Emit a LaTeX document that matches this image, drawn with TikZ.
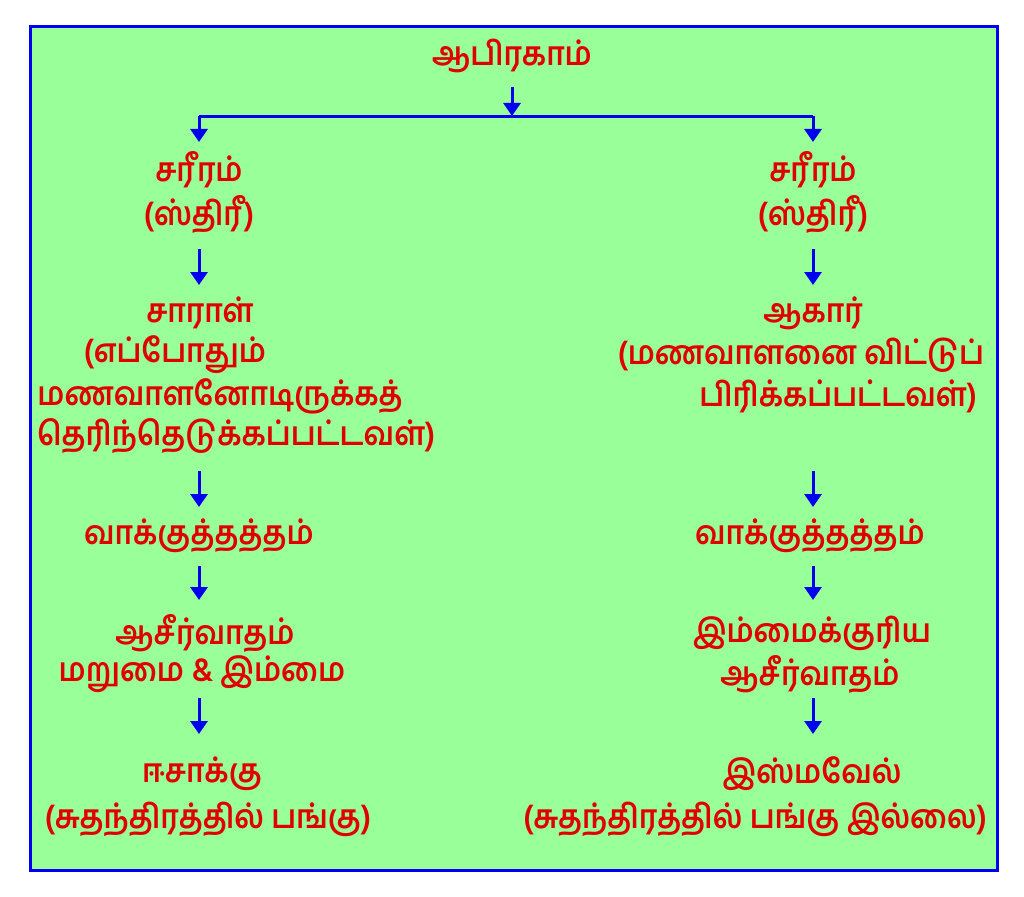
\documentclass[tikz,border=0pt]{standalone}
\usepackage{fontspec}
\newfontfamily\tamil[Script=Tamil,FakeStretch=0.9]{Hind Madurai}
\usetikzlibrary{arrows.meta}
\definecolor{bgreen}{RGB}{153,255,153}
\definecolor{tred}{RGB}{225,0,0}
\definecolor{lblue}{RGB}{0,0,240}
\tikzset{
  txt/.style={text=tred,font=\tamil\bfseries\fontsize{33}{38}\selectfont,inner sep=0pt,anchor=center},
  arr/.style={draw=lblue,line width=3pt,-{Triangle[length=13pt,width=17pt]}},
  ln/.style={draw=lblue,line width=3pt}
}
\begin{document}
\begin{tikzpicture}[x=1pt,y=-1pt]
\useasboundingbox (0,0) rectangle (1024,896);
\fill[white] (0,0) rectangle (1024,896);
\draw[fill=bgreen,draw=lblue,line width=3pt] (30,27) rectangle (997,870);
% top
\node[txt] (abr) at (512,56) {ஆபிரகாம்};
\coordinate (a0) at (512,87);
\coordinate (a1) at (512,116);
\coordinate (hl) at (199,116.5);
\coordinate (hr) at (813,116.5);
\coordinate (hle) at (199,142);
\coordinate (hre) at (813,142);
\draw[arr] (a0) -- (a1);
\draw[ln] (hl) -- (hr);
\draw[arr] (hl) -- (hle);
\draw[arr] (hr) -- (hre);
% left column
\node[txt] (sl1) at (199,170) {சரீரம்};
\node[txt] (sl2) at (199,214) {(ஸ்திரீ)};
\coordinate (l1s) at (199,249);
\coordinate (l1e) at (199,285);
\draw[arr] (l1s) -- (l1e);
\node[txt] (sa1) at (200,313) {சாராள்};
\node[txt] (sa2) at (175,355) {(எப்போதும்};
\node[txt] (sa3) at (220,396) {மணவாளனோடிருக்கத்};
\node[txt] (sa4) at (236,436) {தெரிந்தெடுக்கப்பட்டவள்)};
\coordinate (l2s) at (199,471);
\coordinate (l2e) at (199,507);
\draw[arr] (l2s) -- (l2e);
\node[txt] (vl) at (199,536) {வாக்குத்தத்தம்};
\coordinate (l3s) at (199,566);
\coordinate (l3e) at (199,600);
\draw[arr] (l3s) -- (l3e);
\node[txt] (bl1) at (205,633) {ஆசீர்வாதம்};
\node[txt] (bl2) at (202,674) {மறுமை \& இம்மை};
\coordinate (l4s) at (199,698);
\coordinate (l4e) at (199,734);
\draw[arr] (l4s) -- (l4e);
\node[txt] (il1) at (202,774) {ஈசாக்கு};
\node[txt] (il2) at (208,819) {(சுதந்திரத்தில் பங்கு)};
% right column
\node[txt] (sr1) at (813,170) {சரீரம்};
\node[txt] (sr2) at (813,214) {(ஸ்திரீ)};
\coordinate (r1s) at (813,249);
\coordinate (r1e) at (813,285);
\draw[arr] (r1s) -- (r1e);
\node[txt] (ag1) at (813,313) {ஆகார்};
\node[txt] (ag2) at (801,355) {(மணவாளனை விட்டுப்};
\node[txt] (ag3) at (838,396) {பிரிக்கப்பட்டவள்)};
\coordinate (r2s) at (813,471);
\coordinate (r2e) at (813,507);
\draw[arr] (r2s) -- (r2e);
\node[txt] (vr) at (810,536) {வாக்குத்தத்தம்};
\coordinate (r3s) at (813,566);
\coordinate (r3e) at (813,600);
\draw[arr] (r3s) -- (r3e);
\node[txt] (br1) at (812,633) {இம்மைக்குரிய};
\node[txt] (br2) at (810,674) {ஆசீர்வாதம்};
\coordinate (r4s) at (813,698);
\coordinate (r4e) at (813,734);
\draw[arr] (r4s) -- (r4e);
\node[txt] (is1) at (812,774) {இஸ்மவேல்};
\node[txt] (is2) at (755,819) {(சுதந்திரத்தில் பங்கு இல்லை)};
\end{tikzpicture}
\end{document}
